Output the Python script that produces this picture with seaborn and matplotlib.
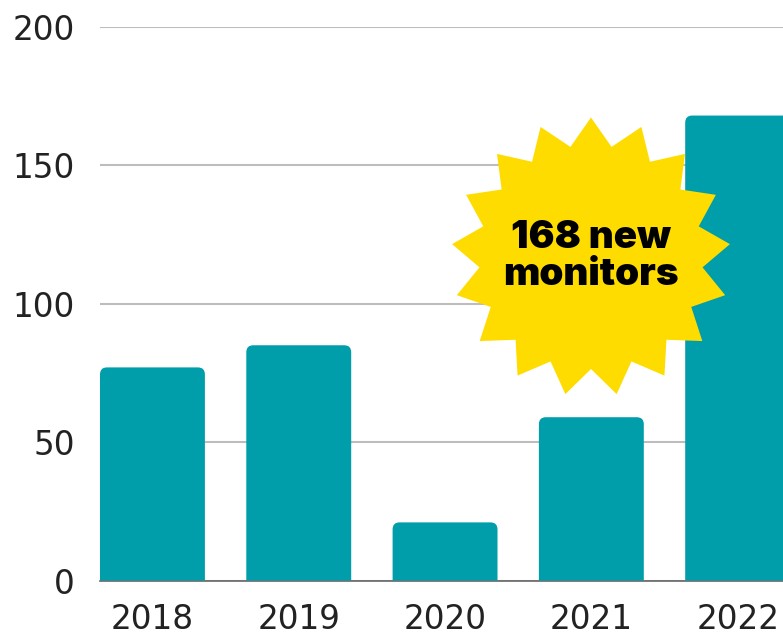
import numpy as np
import pandas as pd
import seaborn as sns
import matplotlib
matplotlib.use('Agg')
import matplotlib.pyplot as plt
from matplotlib.patches import PathPatch, Polygon
from matplotlib.path import Path

years = ['2018', '2019', '2020', '2021', '2022']
monitors = [77, 85, 21, 59, 168]
yticks = [0, 50, 100, 150, 200]
label_lines = ['168 new', 'monitors']

TEAL = '#009DAA'
YELLOW = '#FFDC00'

sns.set_theme(style='white')
plt.rcParams['font.family'] = ['DejaVu Sans']

W, H = 783, 632
fig = plt.figure(figsize=(W / 100, H / 100), dpi=100)
ax = fig.add_axes([100 / W, 1 - 580.5 / H, 683 / W, 553.5 / H])

df = pd.DataFrame({'year': years, 'monitors': monitors})
sns.barplot(data=df, x='year', y='monitors', color=TEAL, saturation=1, width=0.717, ax=ax, zorder=3)

ax.set_xlim(-0.3585, 4.31)
ax.set_ylim(0, 200)
ax.set_yticks(yticks)
ax.set_xlabel('')
ax.set_ylabel('')
ax.grid(axis='y', color='#BDBDBD', lw=1.5, zorder=0)
ax.set_axisbelow(True)
for side in ['top', 'right', 'left']:
    ax.spines[side].set_visible(False)
ax.spines['bottom'].set_color('#666666')
ax.spines['bottom'].set_linewidth(1.2)
ax.tick_params(axis='both', length=0, labelsize=23.5, labelcolor='#222222')
ax.tick_params(axis='x', pad=16.5)
ax.tick_params(axis='y', pad=18)

# round the top corners of the bars
rx = 7 * (4.6685 / 683)
ry = 7 * (200 / 553.5)
for bar in list(ax.patches):
    x0, x1 = bar.get_x(), bar.get_x() + bar.get_width()
    top = bar.get_height()
    verts = [(x0, 0), (x0, top - ry), (x0, top), (x0 + rx, top), (x1 - rx, top), (x1, top), (x1, top - ry), (x1, 0), (x0, 0)]
    codes = [Path.MOVETO, Path.LINETO, Path.CURVE3, Path.CURVE3, Path.LINETO, Path.CURVE3, Path.CURVE3, Path.LINETO, Path.CLOSEPOLY]
    ax.add_patch(PathPatch(Path(verts, codes), fc=TEAL, ec='none', zorder=3))
    bar.remove()

# starburst callout, drawn in pixel coordinates on an overlay
over = fig.add_axes([0, 0, 1, 1], facecolor='none')
over.set_xlim(0, W)
over.set_ylim(H, 0)
over.axis('off')
n = 17
ang = -np.pi / 2 + np.arange(2 * n) * np.pi / n
rad = np.where(np.arange(2 * n) % 2 == 0, 139.5, 112)
star = np.column_stack([591 + rad * np.cos(ang), 257 + rad * np.sin(ang)])
over.add_patch(Polygon(star, closed=True, fc=YELLOW, ec='none'))
for line, y in zip(label_lines, [238, 275]):
    over.text(591, y, line, ha='center', va='center', fontsize=27.8, fontweight=900,
              family=['Inter', 'DejaVu Sans'], color='black')

fig.savefig('out.png', dpi=100)
